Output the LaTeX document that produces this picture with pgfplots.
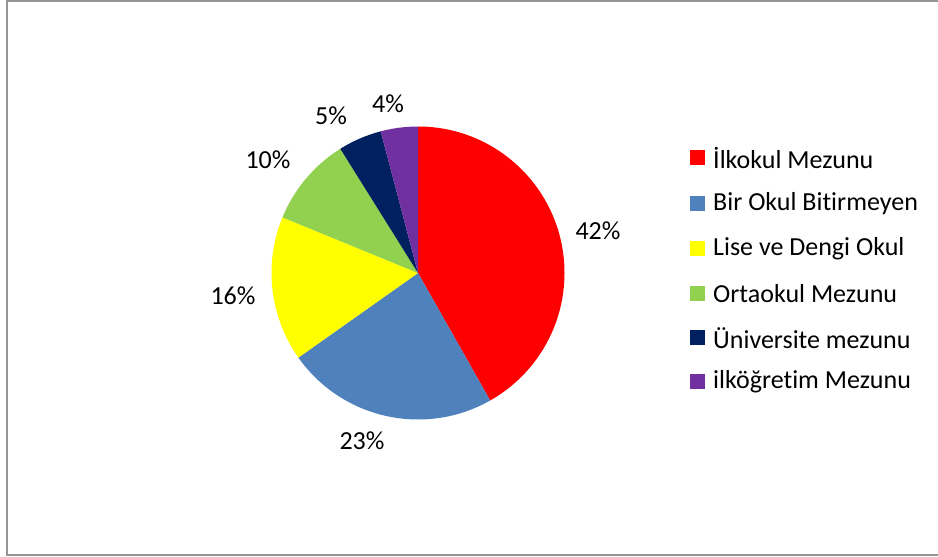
\documentclass[border=0pt]{standalone}
\usepackage{pgfplots}
\usepackage{pgfplotstable}
\pgfplotsset{compat=1.18}
\usepackage{fontspec}
\setmainfont{Carlito}[Ligatures=NoCommon]

\definecolor{cRed}{RGB}{255,0,0}
\definecolor{cBlue}{RGB}{79,129,189}
\definecolor{cYellow}{RGB}{255,255,0}
\definecolor{cGreen}{RGB}{146,208,80}
\definecolor{cNavy}{RGB}{0,32,96}
\definecolor{cPurple}{RGB}{112,48,160}
\definecolor{frame}{RGB}{150,150,150}

% share (%), colour, label position (px from top-left), label
\pgfplotstableread{
value col lx ly lab
41.8 cRed 598 231 42
23.4 cBlue 362 441 23
16.0 cYellow 233 296 16
9.9 cGreen 268 160 10
4.8 cNavy 331 116 5
4.1 cPurple 388 104 4
}\piedata

\pgfplotstableread[col sep=semicolon]{
y;col;name
158;cRed;İlkokul Mezunu
204;cBlue;Bir Okul Bitirmeyen
249;cYellow;Lise ve Dengi Okul
294;cGreen;Ortaokul Mezunu
338;cNavy;Üniversite mezunu
382;cPurple;ilköğretim Mezunu
}\legdata

\begin{document}
\begin{tikzpicture}
\begin{axis}[x=1pt,y=1pt,xmin=0,xmax=938,ymin=0,ymax=557,
  hide axis, scale only axis, at={(0,0)}, anchor=south west, clip=true]
\def\cx{418}\def\cy{284}\def\rr{146.5}
\def\curangle{90}
\pgfplotsforeachungrouped \i in {0,...,5}{%
  \pgfplotstablegetelem{\i}{value}\of\piedata \let\v\pgfplotsretval
  \pgfplotstablegetelem{\i}{col}\of\piedata \let\c\pgfplotsretval
  \pgfplotstablegetelem{\i}{lx}\of\piedata \let\lx\pgfplotsretval
  \pgfplotstablegetelem{\i}{ly}\of\piedata \let\ly\pgfplotsretval
  \pgfplotstablegetelem{\i}{lab}\of\piedata \let\lab\pgfplotsretval
  \pgfmathsetmacro\endangle{\curangle-3.6*\v}
  \pgfmathsetmacro\sx{\cx+\rr*cos(\curangle)}
  \pgfmathsetmacro\sy{\cy+\rr*sin(\curangle)}
  \pgfmathsetmacro\ny{557-\ly}
  \edef\tmp{\noexpand\fill[\c] (axis cs:\cx,\cy) -- (axis cs:\sx,\sy) arc[start angle=\curangle, end angle=\endangle, radius=\rr pt] -- cycle;
    \noexpand\node[font=\noexpand\fontsize{26}{30}\noexpand\selectfont, inner sep=0pt] at (axis cs:\lx,\ny) {\lab\noexpand\%};}
  \tmp
  \global\let\curangle\endangle
}
\pgfplotsforeachungrouped \i in {0,...,5}{%
  \pgfplotstablegetelem{\i}{y}\of\legdata \let\ly\pgfplotsretval
  \pgfplotstablegetelem{\i}{col}\of\legdata \let\c\pgfplotsretval
  \pgfplotstablegetelem{\i}{name}\of\legdata \let\nm\pgfplotsretval
  \pgfmathsetmacro\ny{557-\ly}
  \pgfmathsetmacro\ya{\ny-7.5}
  \pgfmathsetmacro\yb{\ny+7.5}
  \edef\tmp{\noexpand\fill[\c] (axis cs:690,\ya) rectangle (axis cs:705,\yb);
    \noexpand\node[font=\noexpand\fontsize{26}{30}\noexpand\selectfont, inner sep=0pt, anchor=west] at (axis cs:713,\ny) {\nm};}
  \tmp
}
\draw[frame, line width=2pt] (axis cs:6.5,555.5) rectangle (axis cs:945,1.5);
\end{axis}
\pgfresetboundingbox
\useasboundingbox (0,0) rectangle (938pt,557pt);
\end{tikzpicture}
\end{document}
